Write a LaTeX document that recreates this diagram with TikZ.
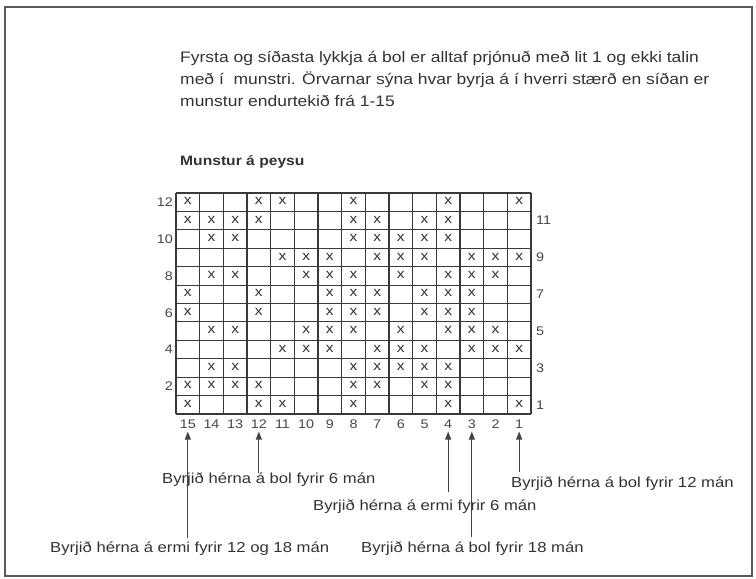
\documentclass[tikz,border=0pt]{standalone}
\usepackage{fontspec}
\setmainfont{Liberation Sans}[FakeStretch=1.15]
\usetikzlibrary{arrows.meta}
\definecolor{ink}{HTML}{333333}
\definecolor{gridc}{HTML}{3A3A3A}
\definecolor{arrc}{HTML}{444444}
\tikzset{
  bodytext/.style={anchor=base west, inner sep=0pt, text=ink, font=\fontsize{15.2}{22}\selectfont},
  labtext/.style={anchor=west, inner sep=0pt, text=ink, font=\fontsize{14.5}{18}\selectfont},
  numlab/.style={inner sep=1pt, text=ink!90, font=\fontsize{12.5}{14}\selectfont},
  xmark/.style={inner sep=0pt, text=ink, font=\fontsize{13.5}{14}\selectfont},
  gridline/.style={draw=gridc, line width=1.1pt},
  arr/.style={draw=arrc, line width=1.2pt, -{Triangle[length=8pt,width=6pt]}, shorten >=2pt},
}
\begin{document}
\begin{tikzpicture}[x=1pt,y=-1pt]
\useasboundingbox (0,0) rectangle (756,579);
\fill[white] (0,0) rectangle (756,579);
\draw[draw=gray!70!black, line width=1.2pt] (5,7) rectangle (752,576);

% header text
\node[bodytext] (h1) at (180,62) {Fyrsta og síðasta lykkja á bol er alltaf prjónuð með lit 1 og ekki talin};
\node[bodytext] (h2) at (180,84) {með í\ \ munstri. Örvarnar sýna hvar byrja á í hverri stærð en síðan er};
\node[bodytext] (h3) at (180,106) {munstur endurtekið frá 1-15};
\node[bodytext, font=\fontsize{13.6}{18}\bfseries] (title) at (180,165) {Munstur á peysu};

% grid
\foreach \i in {0,...,15} {
  \draw[gridline] ({176+23.667*\i},193) -- ({176+23.667*\i},414);
}
\foreach \j in {0,...,12} {
  \draw[gridline] (176,{193+18.417*\j}) -- (531,{193+18.417*\j});
}

% x marks
\foreach \r/\cols in {
  12/{15,12,11,8,4,1},
  11/{15,14,13,12,8,7,5,4},
  10/{14,13,8,7,6,5,4},
  9/{11,10,9,7,6,5,3,2,1},
  8/{14,13,10,9,8,6,4,3,2},
  7/{15,12,9,8,7,5,4,3},
  6/{15,12,9,8,7,5,4,3},
  5/{14,13,10,9,8,6,4,3,2},
  4/{11,10,9,7,6,5,3,2,1},
  3/{14,13,8,7,6,5,4},
  2/{15,14,13,12,8,7,5,4},
  1/{15,12,11,8,4,1}} {
  \foreach \k in \cols {
    \node[xmark] (x\r-\k) at ({176+23.667*(15.5-\k)},{193+18.417*(12.5-\r)-1}) {x};
  }
}

% row labels
\foreach \r in {12,10,8,6,4,2} {
  \node[numlab, anchor=east] (rl\r) at (174,{193+18.417*(12.5-\r)}) {\r};
}
\foreach \r in {11,9,7,5,3,1} {
  \node[numlab, anchor=west] (rl\r) at (535,{193+18.417*(12.5-\r)}) {\r};
}
% column labels
\foreach \k in {15,...,1} {
  \node[numlab] (cl\k) at ({176+23.667*(15.5-\k)},424) {\k};
}

% bottom labels
\node[labtext] (t6bol) at (162,480) {Byrjið hérna á bol fyrir 6 mán};
\node[labtext] (t12bol) at (511,484) {Byrjið hérna á bol fyrir 12 mán};
\node[labtext] (t6ermi) at (313,507) {Byrjið hérna á ermi fyrir 6 mán};
\node[labtext] (t12ermi) at (50,549) {Byrjið hérna á ermi fyrir 12 og 18 mán};
\node[labtext] (t18bol) at (361,549) {Byrjið hérna á bol fyrir 18 mán};

% arrows
\coordinate (a15) at ({176+23.667*0.5},538);
\coordinate (a12) at ({176+23.667*3.5},473);
\coordinate (a4) at ({176+23.667*11.5},492);
\coordinate (a3) at ({176+23.667*12.5},537);
\coordinate (a1) at ({176+23.667*14.5},472);
\draw[arr] (a15) -- (cl15.south);
\draw[arr] (a12) -- (cl12.south);
\draw[arr] (a4) -- (cl4.south);
\draw[arr] (a3) -- (cl3.south);
\draw[arr] (a1) -- (cl1.south);
\end{tikzpicture}
\end{document}
